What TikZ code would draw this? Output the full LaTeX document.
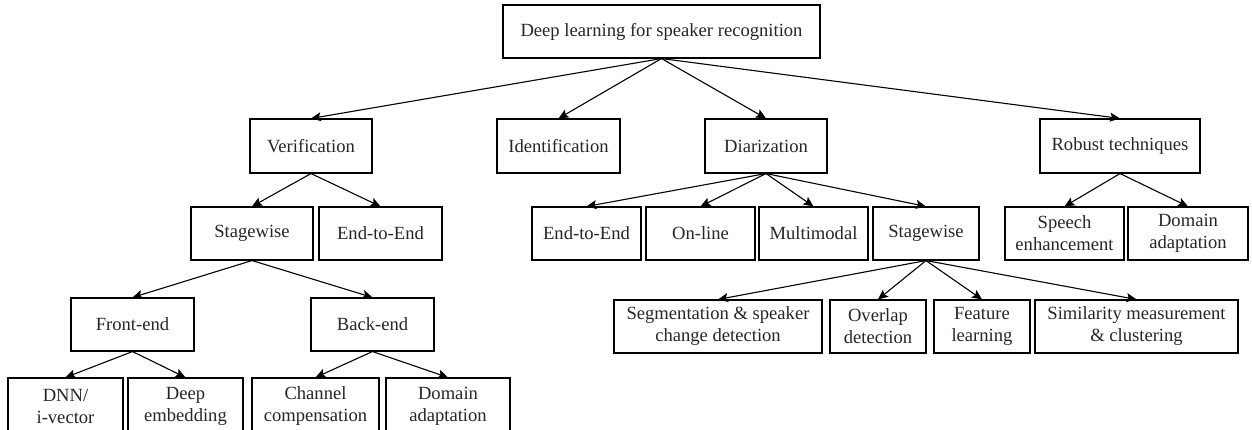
\documentclass[tikz,border=0pt]{standalone}
\usepackage{fontspec}
\setmainfont{Liberation Serif}
\usetikzlibrary{arrows.meta}
\tikzset{
  box/.style={draw=black, line width=1.1pt, inner sep=0pt, align=center, text=black!85,
    font=\fontsize{18.6}{22}\selectfont},
  arr/.style={-{Stealth[length=10pt,width=9pt,inset=2pt]}, line width=1.1pt},
}
\newcommand{\bx}[7]{% name, x1, x2, y1, y2, text
  \node[box, minimum width=#3pt-#2pt, minimum height=#5pt-#4pt] (#1) at ({(#2+#3)/2}, {-(#4+#5)/2}) {#6#7};}
\begin{document}
\begin{tikzpicture}[x=1pt,y=1pt]
\useasboundingbox (0,0) rectangle (1252,-430);
\bx{root}{503}{820}{5}{58}{Deep learning for speaker recognition}{}
\bx{verif}{250}{372}{119}{173}{Verification}{}
\bx{ident}{497}{620}{119}{173}{Identification}{}
\bx{diar}{705}{827}{119}{173}{Diarization}{}
\bx{robust}{1040}{1200}{119}{173}{Robust techniques}{}
\bx{vstage}{191}{313}{207}{260}{Stagewise}{}
\bx{ve2e}{319}{442}{207}{260}{End-to-End}{}
\bx{de2e}{532}{641}{207}{260}{End-to-End}{}
\bx{donline}{646}{755}{207}{260}{On-line}{}
\bx{dmulti}{759}{868}{207}{260}{Multimodal}{}
\bx{dstage}{873}{979}{207}{260}{Stagewise}{}
\bx{speech}{1005}{1124}{207}{260}{Speech\\enhancement}{}
\bx{rdomain}{1128}{1248}{207}{260}{Domain\\adaptation}{}
\bx{front}{71}{194}{298}{351}{Front-end}{}
\bx{back}{311}{434}{298}{351}{Back-end}{}
\bx{seg}{614}{822}{300}{353}{Segmentation \& speaker\\change detection}{}
\bx{overlap}{830}{926}{300}{353}{Overlap\\detection}{}
\bx{feature}{934}{1030}{300}{353}{Feature\\learning}{}
\bx{sim}{1035}{1238}{300}{353}{Similarity measurement\\\& clustering}{}
\bx{dnn}{8}{123}{378}{434}{DNN/\\i-vector}{}
\bx{deep}{128}{243}{378}{434}{Deep\\embedding}{}
\bx{chan}{252}{379}{378}{434}{Channel\\compensation}{}
\bx{vdomain}{386}{510}{378}{434}{Domain\\adaptation}{}
\foreach \a/\b in {root/verif, root/ident, root/diar, root/robust,
  verif/vstage, verif/ve2e, vstage/front, vstage/back,
  front/dnn, front/deep, back/chan, back/vdomain,
  diar/de2e, diar/donline, diar/dmulti, diar/dstage,
  dstage/seg, dstage/overlap, dstage/feature, dstage/sim,
  robust/speech, robust/rdomain}
  \draw[arr] (\a.south) -- (\b.north);
\end{tikzpicture}
\end{document}
